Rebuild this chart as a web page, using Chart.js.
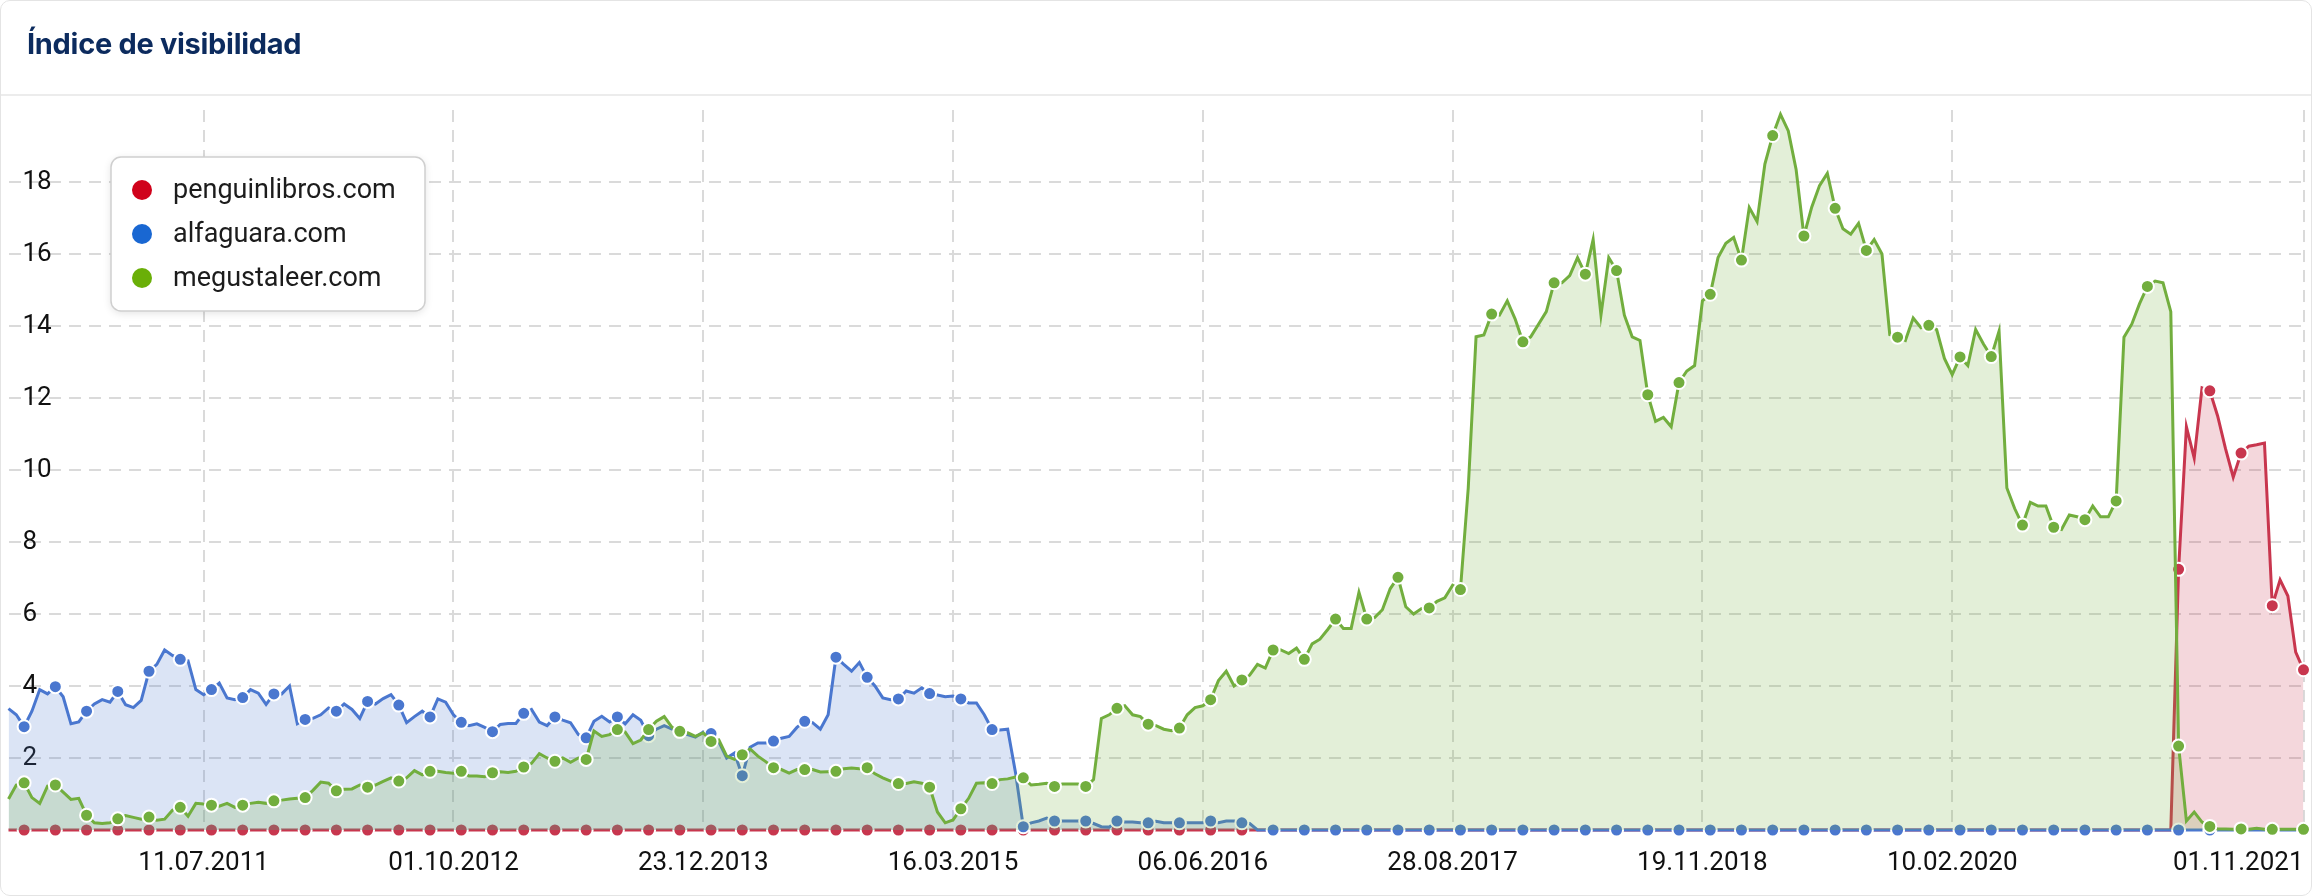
<!DOCTYPE html>
<html lang="es">
<head>
<meta charset="utf-8">
<title>Índice de visibilidad</title>
<script src="https://cdn.jsdelivr.net/npm/chart.js@4.4.1/dist/chart.umd.min.js"></script>
<style>
  html, body { margin: 0; padding: 0; background: #fff; }
  .card { position: relative; width: 2312px; height: 896px; overflow: hidden; }
  .card canvas { position: absolute; left: 0; top: 0; }
  .title { position: absolute; left: 27px; top: 27px; margin: 0; font: 700 29px/34px Inter, "Noto Sans", sans-serif; color: #0c2b5e; letter-spacing: -0.3px; }
  .sep { position: absolute; left: 0; right: 0; top: 94px; height: 2px; background: #ececec; }
  .frame { position: absolute; inset: 0; border: 1px solid #e4e4e4; border-radius: 10px; pointer-events: none; }
</style>
</head>
<body>
<div class="card">
  <canvas id="chart" width="2312" height="896"></canvas>
  <h1 class="title">Índice de visibilidad</h1>
  <div class="sep"></div>
  <div class="frame"></div>
</div>
<script>
'use strict';

// una muestra cada dos semanas, semana 1 = finales de julio 2010
const firstWeek = 1;
const weekStep = 2;

const seriesNames = ['penguinlibros.com', 'alfaguara.com', 'megustaleer.com'];
const lineColors = ['#c8364e', '#4a77cf', '#72ae3e'];
const legendColors = ['#d0021b', '#1967d2', '#6aaf08'];

const tickWeeks = [51, 115, 179, 243, 307, 371, 435, 499, 589];
const tickLabels = ['11.07.2011', '01.10.2012', '23.12.2013', '16.03.2015', '06.06.2016',
    '28.08.2017', '19.11.2018', '10.02.2020', '01.11.2021'];

const penguinlibros = [
    0, 0, 0, 0, 0, 0, 0, 0, 0, 0, 0, 0, 0, 0, 0, 0, 0, 0, 0, 0,
    0, 0, 0, 0, 0, 0, 0, 0, 0, 0, 0, 0, 0, 0, 0, 0, 0, 0, 0, 0,
    0, 0, 0, 0, 0, 0, 0, 0, 0, 0, 0, 0, 0, 0, 0, 0, 0, 0, 0, 0,
    0, 0, 0, 0, 0, 0, 0, 0, 0, 0, 0, 0, 0, 0, 0, 0, 0, 0, 0, 0,
    0, 0, 0, 0, 0, 0, 0, 0, 0, 0, 0, 0, 0, 0, 0, 0, 0, 0, 0, 0,
    0, 0, 0, 0, 0, 0, 0, 0, 0, 0, 0, 0, 0, 0, 0, 0, 0, 0, 0, 0,
    0, 0, 0, 0, 0, 0, 0, 0, 0, 0, 0, 0, 0, 0, 0, 0, 0, 0, 0, 0,
    0, 0, 0, 0, 0, 0, 0, 0, 0, 0, 0, 0, 0, 0, 0, 0, 0, 0, 0, 0,
    0, 0, 0, 0, 0, 0, 0, 0, 0, 0, 0, 0, 0, 0, 0, 0, 0, 0, 0, 0,
    0, 0, 0, 0, 0, 0, 0, 0, 0, 0, 0, 0, 0, 0, 0, 0, 0, 0, 0, 0,
    0, 0, 0, 0, 0, 0, 0, 0, 0, 0, 0, 0, 0, 0, 0, 0, 0, 0, 0, 0,
    0, 0, 0, 0, 0, 0, 0, 0, 0, 0, 0, 0, 0, 0, 0, 0, 0, 0, 0, 0,
    0, 0, 0, 0, 0, 0, 0, 0, 0, 0, 0, 0, 0, 0, 0, 0, 0, 0, 0, 0,
    0, 0, 0, 0, 0, 0, 0, 0, 0, 0, 0, 0, 0, 0, 0, 0, 0, 0,
    7.24, 11.2, 10.33, 12.28, 12.2, 11.5, 10.6, 9.8, 10.47, 10.66,
    10.7, 10.75, 6.23, 6.95, 6.5, 4.94, 4.45
];

const alfaguara = [
    3.37, 3.2, 2.87, 3.3, 3.9, 3.78, 3.98, 3.7, 2.95, 3.0,
    3.3, 3.5, 3.62, 3.55, 3.85, 3.48, 3.4, 3.6, 4.41, 4.6,
    5.0, 4.85, 4.74, 4.7, 3.9, 3.76, 3.9, 4.08, 3.67, 3.62,
    3.68, 3.9, 3.8, 3.49, 3.78, 3.78, 4.0, 2.95, 3.07, 3.1,
    3.2, 3.39, 3.3, 3.5, 3.35, 3.1, 3.57, 3.5, 3.65, 3.76,
    3.47, 2.98, 3.15, 3.3, 3.14, 3.64, 3.55, 3.2, 2.99, 2.9,
    2.95, 2.85, 2.73, 2.93, 2.96, 2.96, 3.24,
    3.35, 3.0, 2.9, 3.14, 3.05, 2.98, 2.65, 2.56, 3.02, 3.16,
    3.0, 3.14, 2.95, 3.2, 3.05, 2.62, 2.8, 2.9, 2.8, 2.74,
    2.65, 2.58, 2.72, 2.68, 2.45, 2.0, 2.14, 1.51, 2.3, 2.42,
    2.42, 2.47, 2.55, 2.6, 2.85, 3.02, 2.98, 2.8, 3.2, 4.8,
    4.6, 4.41, 4.65, 4.24, 4.0, 3.67, 3.62, 3.64, 3.86, 3.8,
    3.95, 3.79, 3.75, 3.7, 3.72, 3.64, 3.53, 3.53, 3.2, 2.79,
    2.78, 2.8, 1.6, 0.09,
    0.2, 0.25, 0.33, 0.25, 0.25, 0.25, 0.25, 0.25, 0.18, 0.09,
    0.08, 0.25, 0.22, 0.22, 0.2, 0.2, 0.24, 0.2, 0.2, 0.2,
    0.2, 0.2, 0.2, 0.25, 0.2, 0.25, 0.25, 0.2, 0.18,
    0, 0, 0, 0, 0, 0, 0, 0, 0, 0, 0, 0, 0, 0, 0, 0, 0, 0, 0, 0,
    0, 0, 0, 0, 0, 0, 0, 0, 0, 0, 0, 0, 0, 0, 0, 0, 0, 0, 0, 0,
    0, 0, 0, 0, 0, 0, 0, 0, 0, 0, 0, 0, 0, 0, 0, 0, 0, 0, 0, 0,
    0, 0, 0, 0, 0, 0, 0, 0, 0, 0, 0, 0, 0, 0, 0, 0, 0, 0, 0, 0,
    0, 0, 0, 0, 0, 0, 0, 0, 0, 0, 0, 0, 0, 0, 0, 0, 0, 0, 0, 0,
    0, 0, 0, 0, 0, 0, 0, 0, 0, 0, 0, 0, 0, 0, 0, 0, 0, 0, 0, 0,
    0, 0, 0, 0, 0, 0, 0, 0, 0, 0, 0, 0, 0, 0, 0
];

const megustaleer = [
    0.86, 1.25, 1.31, 0.9, 0.74, 1.22, 1.25, 1.05, 0.85, 0.88,
    0.41, 0.2, 0.18, 0.2, 0.31, 0.4, 0.35, 0.3, 0.36, 0.27,
    0.3, 0.55, 0.63, 0.38, 0.74, 0.72, 0.69, 0.66, 0.74, 0.63,
    0.69, 0.74, 0.77, 0.74, 0.81, 0.83, 0.86, 0.88, 0.9, 1.1,
    1.33, 1.3, 1.09, 1.13, 1.14, 1.25, 1.19, 1.25, 1.35, 1.45,
    1.36, 1.45, 1.65, 1.53, 1.63, 1.63, 1.6, 1.58, 1.63, 1.5,
    1.5, 1.48, 1.59, 1.62, 1.6, 1.63, 1.75,
    1.85, 2.12, 2.0, 1.91, 2.0, 1.88, 2.0, 1.96, 2.75, 2.6,
    2.65, 2.79, 2.72, 2.4, 2.5, 2.79, 3.02, 3.15, 2.85, 2.74,
    2.7, 2.6, 2.7, 2.46, 2.5, 2.05, 1.96, 2.09, 2.25, 2.05,
    1.9, 1.73, 1.68, 1.58, 1.68, 1.68, 1.68, 1.61, 1.62, 1.63,
    1.7, 1.72, 1.7, 1.73, 1.56, 1.45, 1.36, 1.29, 1.29, 1.34,
    1.3, 1.19, 0.5, 0.2, 0.28, 0.59, 0.88, 1.3, 1.31, 1.29,
    1.4, 1.42, 1.47, 1.45,
    1.25, 1.27, 1.3, 1.21, 1.28, 1.28, 1.28, 1.21, 1.4, 3.1,
    3.2, 3.38, 3.45, 3.2, 3.15, 2.94, 2.9, 2.8, 2.76, 2.83,
    3.2, 3.4, 3.45, 3.62, 4.15, 4.41, 4.0, 4.17, 4.3, 4.6,
    4.5, 5.0, 5.0, 4.9, 5.05, 4.74, 5.17, 5.3, 5.57, 5.86,
    5.6, 5.6, 6.6, 5.86, 5.9, 6.12, 6.7, 7.02, 6.2, 6.0,
    6.15, 6.17, 6.35, 6.45, 6.8, 6.68, 9.5, 13.7, 13.75, 14.33,
    14.3, 14.7, 14.2, 13.56,
    13.7, 14.05, 14.4, 15.2, 15.2, 15.4, 15.9, 15.44, 16.4, 14.3,
    15.9, 15.54, 14.3, 13.7, 13.6, 12.09, 11.35, 11.46, 11.2, 12.43,
    12.75, 12.9, 14.7, 14.88, 15.9, 16.3, 16.46, 15.83, 17.29, 16.9,
    18.5, 19.29, 19.88, 19.42, 18.35, 16.5, 17.3, 17.9, 18.24, 17.27,
    16.7, 16.55, 16.85, 16.1, 16.4, 16.0, 13.76, 13.69, 13.6, 14.22,
    13.95, 14.02, 13.9, 13.1, 12.65, 13.14, 12.9, 13.9, 13.5, 13.15,
    13.86, 9.5, 8.93, 8.47,
    9.1, 9.0, 9.0, 8.41, 8.35, 8.75, 8.7, 8.62, 9.0, 8.7,
    8.7, 9.14, 13.69, 14.05, 14.62, 15.1, 15.25, 15.2, 14.4, 2.33,
    0.25, 0.5, 0.22, 0.1, 0.03, 0.03, 0.02, 0.03, 0.02, 0.05,
    0.02, 0.02, 0.02, 0.02, 0.02, 0.02
];

const seriesValues = [penguinlibros, alfaguara, megustaleer];

function toPoints(values) {
    return values.map((y, i) => ({ x: firstWeek + i * weekStep, y: y }));
}

function withAlpha(hex, a) {
    const n = parseInt(hex.slice(1), 16);
    return `rgba(${n >> 16}, ${(n >> 8) & 255}, ${n & 255}, ${a})`;
}

// leyenda dentro del área del gráfico
const legendBox = {
    id: 'legendBox',
    afterDraw(chart) {
        const ctx = chart.ctx;
        const x = 111, y = 157, w = 314, h = 154;
        ctx.save();
        ctx.shadowColor = 'rgba(0, 0, 0, 0.12)';
        ctx.shadowBlur = 8;
        ctx.shadowOffsetY = 2;
        ctx.beginPath();
        ctx.roundRect(x, y, w, h, 10);
        ctx.fillStyle = '#fff';
        ctx.fill();
        ctx.shadowColor = 'transparent';
        ctx.lineWidth = 1.5;
        ctx.strokeStyle = '#cfcfcf';
        ctx.stroke();
        chart.data.datasets.forEach((ds, i) => {
            const cy = 190 + i * 44;
            ctx.beginPath();
            ctx.arc(142, cy, 10, 0, Math.PI * 2);
            ctx.fillStyle = legendColors[i];
            ctx.fill();
            ctx.fillStyle = '#1c1c1c';
            ctx.font = '27px Roboto';
            ctx.textBaseline = 'middle';
            ctx.fillText(ds.label, 173, cy + 1);
        });
        ctx.restore();
    }
};

const datasets = seriesNames.map((name, i) => ({
    label: name,
    data: toPoints(seriesValues[i]),
    borderColor: lineColors[i],
    backgroundColor: withAlpha(lineColors[i], 0.2),
    borderWidth: 3,
    fill: 'origin',
    tension: 0,
    clip: false,
    order: seriesNames.length - 1 - i, // el último queda encima
    pointRadius: ctx => (ctx.dataIndex % 4 === 2 ? 6.5 : 0),
    pointBackgroundColor: lineColors[i],
    pointBorderColor: '#fff',
    pointBorderWidth: 2
}));

const gridColor = '#dadada';

new Chart(document.getElementById('chart'), {
    type: 'line',
    data: { datasets: datasets },
    options: {
        responsive: false,
        animation: false,
        events: [],
        layout: { padding: { top: 110, left: 1, right: 8, bottom: 0 } },
        plugins: { legend: { display: false }, tooltip: { enabled: false } },
        scales: {
            x: {
                type: 'linear',
                min: firstWeek,
                max: tickWeeks[tickWeeks.length - 1],
                afterBuildTicks: scale => {
                    scale.ticks = [{ value: firstWeek }].concat(tickWeeks.map(v => ({ value: v })));
                },
                afterFit: scale => {
                    scale.height = 66;
                    // sin margen lateral extra: la última etiqueta va alineada a la derecha
                    scale.paddingLeft = 0;
                    scale.paddingRight = 0;
                },
                ticks: {
                    autoSkip: false,
                    maxRotation: 0,
                    align: 'inner',
                    padding: 18,
                    color: '#111',
                    font: { family: 'Roboto', size: 26 },
                    callback: v => {
                        const k = tickWeeks.indexOf(v);
                        return k < 0 ? '' : tickLabels[k];
                    }
                },
                grid: {
                    drawTicks: false,
                    lineWidth: 2,
                    color: ctx => (ctx.tick && ctx.tick.value === firstWeek ? 'rgba(0,0,0,0)' : gridColor)
                },
                border: { display: false, dash: [12, 8] }
            },
            y: {
                min: 0,
                max: 20,
                afterFit: scale => { scale.width = 0; },
                ticks: {
                    stepSize: 2,
                    mirror: true,
                    padding: 14,
                    color: '#111',
                    font: { family: 'Roboto', size: 26 },
                    callback: v => (v === 0 || v === 20 ? '' : v)
                },
                grid: {
                    drawTicks: false,
                    lineWidth: 2,
                    color: ctx => (ctx.tick && ctx.tick.value === 20 ? 'rgba(0,0,0,0)' : gridColor)
                },
                border: { display: false, dash: [12, 8] }
            }
        }
    },
    plugins: [legendBox]
});
</script>
</body>
</html>
